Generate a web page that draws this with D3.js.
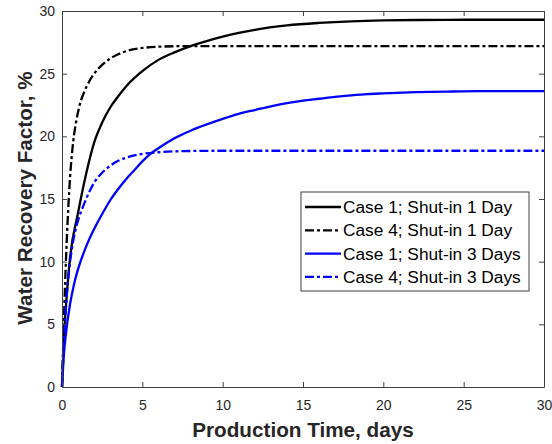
<!DOCTYPE html>
<html>
<head>
<meta charset="utf-8">
<script src="https://cdn.jsdelivr.net/npm/d3@7"></script>
<style>
  body { margin: 0; background: #fff; }
  svg { font-family: "Liberation Sans", Arial, sans-serif; }
</style>
</head>
<body>
<div id="chart"></div>
<script>
// values (days, recovery %)
const case1Day1T = [0, 0.1, 0.25, 0.5, 1, 1.5, 2, 2.5, 3, 3.5, 4, 5, 6, 7, 8, 9, 10, 11, 12, 14, 16, 18, 20, 22, 25, 30];
const case1Day1V = [0, 3.5, 6.5, 10.3, 13.9, 17.0, 19.5, 21.1, 22.3, 23.2, 24.0, 25.2, 26.1, 26.7, 27.2, 27.6, 27.95, 28.25, 28.5, 28.85, 29.05, 29.18, 29.25, 29.28, 29.3, 29.3];

const case4Day1T = [0, 0.1, 0.2, 0.3, 0.4, 0.5, 0.7, 0.9, 1.1, 1.4, 1.7, 2, 2.5, 3, 3.5, 4, 5, 6, 8, 10, 30];
const case4Day1V = [0, 4.5, 8.5, 11.8, 14.5, 16.7, 19.6, 21.3, 22.5, 23.6, 24.4, 25.0, 25.7, 26.2, 26.55, 26.8, 27.05, 27.15, 27.2, 27.2, 27.2];

const case1Day3T = [0, 0.1, 0.25, 0.5, 0.75, 1, 1.5, 2, 2.5, 3, 3.5, 4, 4.5, 5, 5.5, 6, 7, 8, 9, 10, 11, 12, 13, 14, 15, 16, 17, 18, 19, 20, 22, 24, 26, 30];
const case1Day3V = [0, 2.3, 4.3, 6.6, 8.2, 9.4, 11.2, 12.6, 13.8, 14.9, 15.8, 16.6, 17.3, 18.0, 18.6, 19.05, 19.85, 20.45, 20.95, 21.4, 21.8, 22.1, 22.4, 22.65, 22.85, 23.0, 23.15, 23.27, 23.37, 23.43, 23.52, 23.57, 23.6, 23.6];

const case4Day3T = [0, 0.1, 0.2, 0.4, 0.6, 0.8, 1, 1.25, 1.5, 2, 2.5, 3, 3.5, 4, 5, 6, 7, 8, 10, 30];
const case4Day3V = [0, 3, 5.5, 8.8, 10.9, 12.3, 13.3, 14.2, 15.0, 16.3, 17.1, 17.65, 18.05, 18.3, 18.6, 18.73, 18.8, 18.83, 18.85, 18.85];

const seriesNames = ["Case 1; Shut-in 1 Day", "Case 4; Shut-in 1 Day", "Case 1; Shut-in 3 Days", "Case 4; Shut-in 3 Days"];
const seriesColors = ["#000000", "#000000", "#0000ff", "#0000ff"];
const seriesDash = [null, "9,3,3,3", null, "9,3,3,3"];

const xTicks = [0, 5, 10, 15, 20, 25, 30];
const yTicks = [0, 5, 10, 15, 20, 25, 30];

const series = [
  [case1Day1T, case1Day1V],
  [case4Day1T, case4Day1V],
  [case1Day3T, case1Day3V],
  [case4Day3T, case4Day3V]
].map(([t, v], i) => ({
  name: seriesNames[i],
  color: seriesColors[i],
  dash: seriesDash[i],
  points: t.map((d, j) => [d, v[j]])
}));

const width = 552, height = 444;
const margin = { left: 62, right: 8, top: 11, bottom: 57 };

const svg = d3.select("#chart").append("svg").attr("width", width).attr("height", height);

const x = d3.scaleLinear().domain([0, 30]).range([margin.left, width - margin.right]);
const y = d3.scaleLinear().domain([0, 30]).range([height - margin.bottom, margin.top]);

const axisColor = "#404040";
const tickColor = "#262626";

// lines (drawn first, axes box on top)
const line = d3.line().x(d => x(d[0])).y(d => y(d[1])).curve(d3.curveMonotoneX);

svg.append("g").selectAll("path")
  .data(series)
  .enter()
  .append("path")
  .attr("d", d => line(d.points))
  .attr("fill", "none")
  .attr("stroke", d => d.color)
  .attr("stroke-width", 2.3)
  .attr("stroke-dasharray", d => d.dash);

// axes: ticks inward, box on
const xAxis = svg.append("g")
  .attr("transform", `translate(0,${y(0)})`)
  .call(d3.axisBottom(x).tickValues(xTicks).tickSizeInner(-5).tickSizeOuter(0).tickPadding(10));

const yAxis = svg.append("g")
  .attr("transform", `translate(${x(0)},0)`)
  .call(d3.axisLeft(y).tickValues(yTicks).tickSizeInner(-5).tickSizeOuter(0).tickPadding(7));

svg.append("g")
  .attr("transform", `translate(0,${y(30)})`)
  .call(d3.axisTop(x).tickValues(xTicks).tickSizeInner(-5).tickSizeOuter(0).tickFormat(""));

svg.append("g")
  .attr("transform", `translate(${x(30)},0)`)
  .call(d3.axisRight(y).tickValues(yTicks).tickSizeInner(-5).tickSizeOuter(0).tickFormat(""));

svg.selectAll(".domain, .tick line").attr("stroke", axisColor);
svg.selectAll(".tick text")
  .attr("fill", tickColor)
  .style("font-size", "14px");
xAxis.selectAll(".tick text").attr("dy", "0.9em");

// axis labels
svg.append("text")
  .attr("x", (x(0) + x(30)) / 2)
  .attr("y", 437)
  .attr("text-anchor", "middle")
  .attr("fill", tickColor)
  .style("font-size", "20.7px")
  .style("font-weight", "bold")
  .text("Production Time, days");

svg.append("text")
  .attr("transform", "translate(32,198) rotate(-90)")
  .attr("text-anchor", "middle")
  .attr("fill", tickColor)
  .style("font-size", "20.7px")
  .style("font-weight", "bold")
  .text("Water Recovery Factor, %");

// legend
const legend = svg.append("g").attr("transform", "translate(301,192)");

legend.append("rect")
  .attr("width", 228)
  .attr("height", 99)
  .attr("fill", "#fff")
  .attr("stroke", axisColor)
  .attr("stroke-width", 1);

const items = legend.selectAll(".legend-item")
  .data(series)
  .enter()
  .append("g")
  .attr("class", "legend-item")
  .attr("transform", (d, i) => `translate(0,${15 + i * 23.3})`);

items.append("line")
  .attr("x1", 4)
  .attr("x2", 40)
  .attr("stroke", d => d.color)
  .attr("stroke-width", 2.3)
  .attr("stroke-dasharray", d => d.dash);

items.append("text")
  .attr("x", 42)
  .attr("dy", "0.35em")
  .attr("fill", "#000")
  .style("font-size", "17.3px")
  .text(d => d.name);
</script>
</body>
</html>
